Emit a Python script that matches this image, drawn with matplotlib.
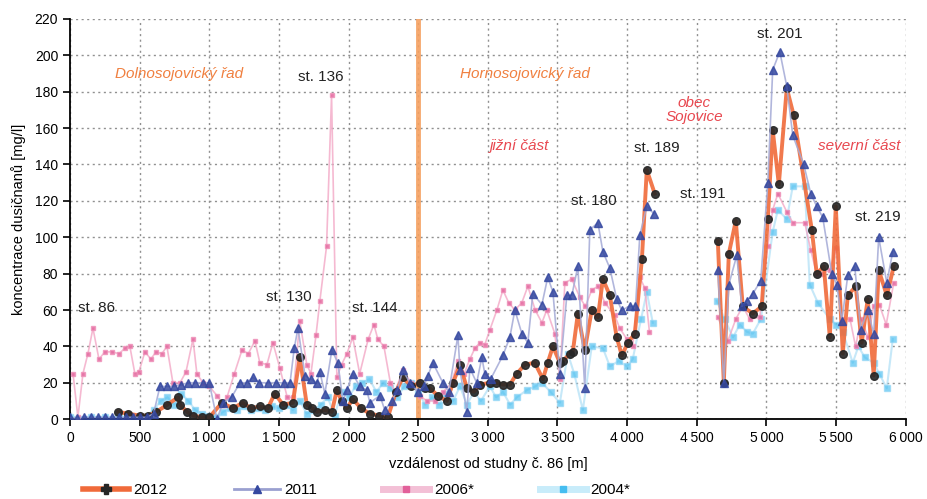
import numpy as np
import matplotlib
matplotlib.use('Agg')
import matplotlib.pyplot as plt
from matplotlib.lines import Line2D

plt.rcParams['font.family'] = ['Liberation Sans', 'DejaVu Sans']
nan = np.nan

# 2012 - distance [m], nitrate [mg/l]
x_2012 = [345, 420, 500, 560, 620, 700, 775, 790, 840, 883, 950, 1000, 1090, 1170, 1240,
          1300, 1363, 1420, 1470, 1530, 1600, 1650, 1700, 1740, 1773, 1830, 1880, 1916,
          1950, 1988, 2030, 2090, 2153, 2220, 2282, 2340, 2390, 2450, 2512, 2550, 2584,
          2640, 2706, 2750, 2800, 2850, 2900, 2943, 3014, 3060, 3108, 3158, 3208, 3266,
          3337, 3395, 3430, 3467, 3517, 3540, 3588, 3610, 3646, 3696, 3746, 3790, 3826,
          3876, 3925, 3962, 4005, 4055, 4106, 4141, 4198, 4400, 4651, 4694, 4730, 4780,
          4830, 4902, 4966, 5010, 5045, 5089, 5146, 5196, 5326, 5361, 5412, 5455, 5498,
          5548, 5584, 5641, 5684, 5727, 5770, 5806, 5864, 5914]
y_2012 = [4, 3, 2, 2, 4, 8, 12, 8, 4, 2, 1, 1, 9, 6, 9,
          6, 7, 6, 14, 8, 9, 34, 8, 6, 4, 5, 4, 16,
          10, 6, 11, 6, 3, 2, 1, 15, 23, 18, 20, 17, 17,
          13, 10, 20, 30, 17, 15, 19, 20, 20, 19, 19, 25, 30,
          31, 22, 31, 40, 31, 32, 36, 37, 58, 38, 60, 56, 77,
          68, 45, 35, 42, 47, 88, 137, 124, nan, 98, 20, 91, 109,
          62, 58, 62, 110, 159, 129, 182, 167, 104, 80, 84, 45, 117,
          36, 68, 73, 42, 66, 24, 82, 68, 84]

# 2011
x_2011 = [0, 50, 100, 150, 200, 250, 300, 350, 400, 450, 500, 550, 600, 646, 700, 750,
          800, 850, 900, 955, 1000, 1055, 1098, 1160, 1220, 1270, 1313, 1360, 1420, 1480,
          1540, 1580, 1610, 1637, 1687, 1730, 1773, 1794, 1830, 1880, 1923, 1960, 1988,
          2030, 2080, 2131, 2153, 2225, 2260, 2311, 2350, 2390, 2440, 2500, 2540, 2570,
          2605, 2677, 2720, 2785, 2800, 2849, 2871, 2920, 2957, 2978, 3020, 3108, 3158,
          3194, 3244, 3287, 3323, 3388, 3430, 3467, 3517, 3567, 3603, 3646, 3696, 3732,
          3790, 3826, 3876, 3925, 3960, 4019, 4060, 4091, 4141, 4191, 4400, 4651, 4694,
          4730, 4787, 4823, 4859, 4902, 4959, 5010, 5045, 5096, 5146, 5189, 5268, 5318,
          5361, 5404, 5469, 5505, 5541, 5584, 5634, 5677, 5727, 5770, 5806, 5864, 5907]
y_2011 = [1, 0.5, 1, 1, 1, 1, 1, 1, 1, 1, 1, 1, 3, 18, 18, 18,
          19, 20, 20, 20, 20, 0, 9, 12, 20, 20, 23, 20, 20, 20,
          20, 20, 39, 50, 24, 22, 20, 26, 14, 38, 31, 10, 16,
          25, 18, 16, 9, 13, 5, 10, 16, 27, 20, 15, 18, 24,
          31, 20, 15, 46, 27, 4, 28, 20, 34, 25, 22, 35, 45,
          60, 47, 42, 69, 63, 78, 70, 25, 68, 68, 84, 17, 104,
          108, 92, 83, 66, 60, 62, 62, 101, 117, 113, nan, 82, 20,
          74, 90, 62, 65, 69, 76, 130, 192, 202, 183, 156, 140, 124,
          117, 111, 80, 74, 54, 79, 84, 49, 60, 47, 100, 75, 92]

# 2006*
x_2006 = [22, 57, 93, 129, 165, 208, 251, 301, 352, 395, 430, 466, 495, 538, 581, 617,
          660, 696, 739, 790, 833, 883, 911, 955, 1000, 1055, 1100, 1127, 1180, 1235,
          1280, 1328, 1363, 1414, 1457, 1507, 1560, 1600, 1650, 1700, 1730, 1766, 1794,
          1842, 1878, 1916, 1950, 1988, 2030, 2080, 2141, 2182, 2210, 2254, 2300, 2333,
          2390, 2450, 2512, 2560, 2620, 2680, 2740, 2785, 2830, 2871, 2907, 2943, 2978,
          3014, 3065, 3108, 3150, 3194, 3244, 3287, 3340, 3388, 3423, 3481, 3517, 3553,
          3603, 3660, 3700, 3746, 3790, 3840, 3911, 3947, 3998, 4040, 4091, 4127, 4160,
          4400, 4651, 4723, 4780, 4830, 4880, 4952, 5010, 5045, 5082, 5146, 5189, 5275,
          5318, 5360, 5400, 5455, 5500, 5541, 5600, 5640, 5680, 5730, 5770, 5810, 5860, 5914]
y_2006 = [25, 1, 25, 36, 50, 33, 37, 37, 36, 39, 40, 25, 26, 37, 33, 37,
          36, 40, 20, 20, 26, 44, 25, 20, 18, 13, 8, 12, 25, 38,
          36, 43, 31, 30, 42, 28, 12, 12, 54, 30, 25, 46, 65,
          95, 178, 23, 30, 36, 45, 25, 44, 52, 44, 40, 20, 15,
          27, 20, 13, 10, 10, 15, 20, 32, 25, 33, 39, 42, 41,
          49, 60, 71, 64, 60, 64, 73, 60, 53, 60, 47, 22, 75,
          77, 67, 62, 71, 73, 64, 57, 50, 44, 40, 78, 72, 48,
          nan, 56, 43, 55, 62, 55, 56, 95, 115, 124, 114, 108, 108,
          93, 80, 80, 82, 94, 55, 55, 40, 55, 45, 62, 63, 52, 75]

# 2004*
x_2004 = [0, 50, 100, 150, 200, 250, 300, 350, 400, 450, 500, 550, 600, 650, 700, 750,
          800, 850, 900, 950, 1000, 1050, 1100, 1150, 1200, 1250, 1300, 1350, 1400, 1450,
          1500, 1550, 1600, 1650, 1700, 1750, 1800, 1850, 1900, 1950, 2000, 2050, 2100,
          2150, 2200, 2250, 2300, 2350, 2400, 2450, 2500, 2550, 2600, 2650, 2700, 2750,
          2800, 2850, 2900, 2950, 3014, 3060, 3108, 3160, 3208, 3280, 3340, 3388, 3450,
          3517, 3574, 3620, 3682, 3746, 3826, 3876, 3940, 3998, 4040, 4100, 4141, 4184,
          4400, 4644, 4700, 4760, 4809, 4860, 4902, 4960, 5045, 5082, 5146, 5189, 5275,
          5311, 5369, 5455, 5500, 5548, 5620, 5660, 5706, 5770, 5810, 5864, 5907]
y_2004 = [1, 0, 0, 1, 0, 1, 0, 1, 0, 1, 0, 2, 5, 10, 12, 8,
          14, 10, 5, 3, 2, 1, 4, 6, 5, 7, 5, 6, 5, 7,
          6, 8, 5, 10, 3, 5, 8, 12, 2, 15, 12, 18, 20,
          22, 15, 20, 17, 12, 18, 20, 15, 8, 12, 8, 14, 10,
          18, 8, 15, 10, 18, 12, 15, 8, 12, 16, 18, 20, 15,
          9, 36, 25, 5, 40, 39, 29, 32, 29, 33, 55, 70, 53,
          nan, 65, 55, 45, 52, 48, 47, 55, 103, 115, 110, 128, 128,
          74, 64, 55, 52, 48, 31, 40, 34, 31, 25, 17, 44]

fig = plt.figure(figsize=(9.28, 4.99), dpi=100)
ax = fig.add_axes([0.0754, 0.160, 0.9006, 0.802])

ax.axvline(2500, color='#f5a060', lw=3.5, alpha=0.9, zorder=1)

ax.plot(x_2004, y_2004, color='#a8dcf5', lw=1.5, marker='s', ms=4,
        mfc='#45bdf0', mec='#8fd4f5', alpha=0.65, zorder=2)
ax.plot(x_2006, y_2006, color='#f3a8c6', lw=1.2, marker='s', ms=3.5,
        mfc='#e2609a', mec='#ee90b8', alpha=0.8, zorder=3)
ax.plot(x_2012, y_2012, color='#f06a3a', lw=2.8, marker='o', ms=5.5,
        mfc='#262626', mec='#262626', alpha=0.9, zorder=4)
ax.plot(x_2011, y_2011, color='#a4aad6', lw=1.2, marker='^', ms=5.5,
        mfc='#3548a0', mec='#3548a0', alpha=0.85, zorder=5)

ax.set_xlim(0, 6000)
ax.set_ylim(0, 220)
ax.set_xticks(range(0, 6001, 500))
ax.set_xticklabels([f'{v:,}'.replace(',', '\u2009') for v in range(0, 6001, 500)])
ax.set_yticks(range(0, 221, 20))
ax.tick_params(labelsize=10, length=5, width=1.2)
ax.grid(True, ls=(0, (1.5, 2.5)), color='#909090', lw=1)
ax.set_axisbelow(True)
for s in ['top', 'right']:
    ax.spines[s].set_visible(False)
for s in ['left', 'bottom']:
    ax.spines[s].set_linewidth(1.3)

ax.set_xlabel('vzdálenost od studny č. 86 [m]', fontsize=10.5, labelpad=9)
ax.set_ylabel('koncentrace dusičnanů [mg/l]', fontsize=10.5, labelpad=6)

# region labels
ax.text(323, 190, 'Dolnosojovický řad', color='#f08040', style='italic', fontsize=11, va='center')
ax.text(2800, 190, 'Hornosojovický řad', color='#f08040', style='italic', fontsize=11, va='center')
ax.text(3015, 150, 'jižní část', color='#e84850', style='italic', fontsize=11, va='center')
ax.text(4480, 170, 'obec\nSojovice', color='#e84850', style='italic', fontsize=11,
        va='center', ha='center', linespacing=1.0)
ax.text(5370, 150, 'severní část', color='#e84850', style='italic', fontsize=11, va='center')

# station labels
stations = [('st. 86', 57, 61), ('st. 130', 1407, 67), ('st. 136', 1636, 188),
            ('st. 144', 2024, 61), ('st. 180', 3596, 120), ('st. 189', 4048, 149),
            ('st. 191', 4378, 124), ('st. 201', 4930, 212), ('st. 219', 5634, 111)]
for txt, sx, sy in stations:
    ax.text(sx, sy, txt, fontsize=11, va='center', color='#222222')

handles = [
    Line2D([], [], color='#f06a3a', lw=4, marker='P', ms=7, mfc='#262626', mec='#262626'),
    Line2D([], [], color='#9aa0d0', lw=2, marker='^', ms=6, mfc='#3548a0', mec='#3548a0'),
    Line2D([], [], color='#f3c0d6', lw=5, marker='s', ms=4, mfc='#e2609a', mec='#e2609a'),
    Line2D([], [], color='#c8ecfa', lw=5, marker='s', ms=4, mfc='#45bdf0', mec='#45bdf0'),
]
fig.legend(handles, ['2012', '2011', '2006*', '2004*'], loc='center left',
           bbox_to_anchor=(0.081, 0.018), ncol=4, frameon=False, fontsize=11,
           handlelength=3.0, columnspacing=4.35, handletextpad=0.3, borderpad=0)

fig.savefig('out.png', dpi=100)
